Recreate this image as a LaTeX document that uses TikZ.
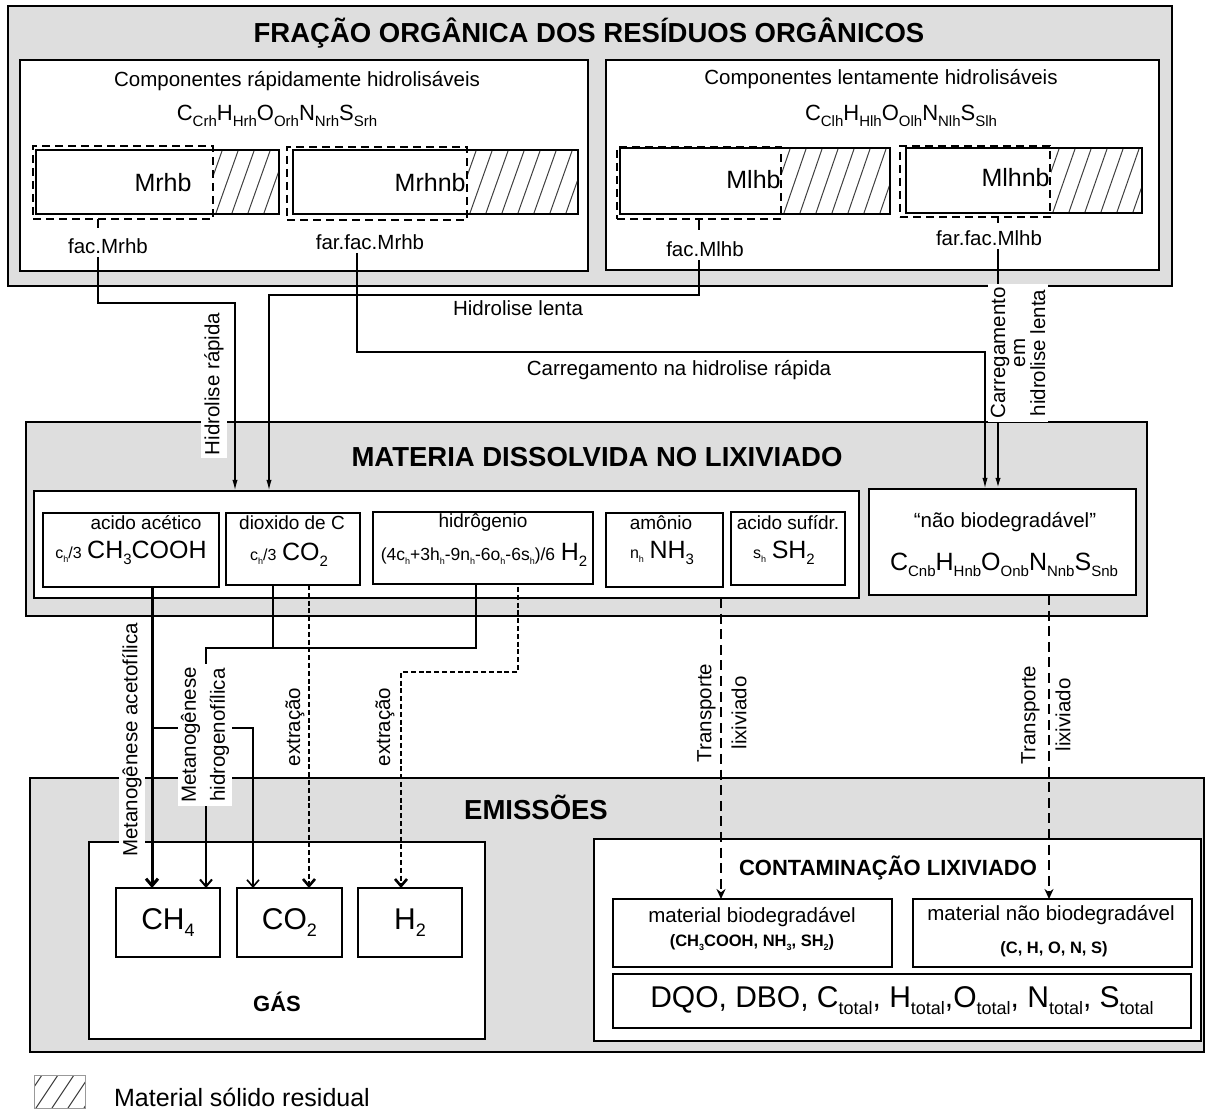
\documentclass[tikz,border=0pt]{standalone}
\usepackage{fontspec}
\setmainfont{Liberation Sans}
\usepackage{tikz}
\usetikzlibrary{positioning, arrows.meta}

\definecolor{fundocinza}{RGB}{222,222,222}
\newcommand{\tam}[1]{\fontsize{#1}{#1}\selectfont}
\newcommand{\sbs}[2][7.5]{\raisebox{-0.45ex}{\tam{#1}#2}}
\newcommand{\hachura}[4]{%
  \begin{scope}
    \clip (#1,#2) rectangle (#3,#4);
    \foreach \i in {0,...,10}
      \draw[hach] (#1-30+16*\i,#4) -- (#1-8+16*\i,#2);
  \end{scope}}

\tikzset{
  cinza/.style={draw, line width=0.9pt, fill=fundocinza, anchor=north west, inner sep=0pt, outer sep=0pt},
  branca/.style={draw, line width=0.8pt, fill=white, anchor=north west, inner sep=0pt, outer sep=0pt},
  tracej/.style={draw, line width=1.4pt, dash pattern=on 4pt off 2.5pt, anchor=north west, inner sep=0pt, outer sep=0pt},
  hach/.style={line width=0.5pt, black!75},
  rotulo/.style={font=\tam{10.25}, inner sep=1.5pt},
  vert/.style={rotulo, rotate=90, align=center, fill=white},
  titulo/.style={font=\bfseries\tam{13.75}},
  liga/.style={line width=0.8pt},
  setasup/.style={liga, -{Latex[length=5.5pt,width=2.6pt]}},
  setagas/.style={-{Straight Barb[length=3.5pt,width=6pt]}},
  extr/.style={line width=1.3pt, dash pattern=on 2.5pt off 1.4pt, setagas},
  transp/.style={line width=1pt, dash pattern=on 5pt off 2.8pt, -{Stealth[length=5pt,width=4.5pt]}},
}

\begin{document}
\begin{tikzpicture}[x=0.5pt, y=-0.5pt]
\fill[white] (0,0) rectangle (1217,1112);
\useasboundingbox (0,0) rectangle (1217,1112);

% Fracao organica
\node[cinza, minimum width=582pt, minimum height=140pt] (fracao) at (8,6) {};
\node[titulo] (titfrac) at (589,33) {FRAÇÃO ORGÂNICA DOS RESÍDUOS ORGÂNICOS};
\node[branca, minimum width=284pt, minimum height=105.5pt] (rapido) at (20,60) {};
\node[branca, minimum width=276.5pt, minimum height=105pt] (lento) at (606,60) {};
\node[rotulo] (comprap) at (297,81) {Componentes rápidamente hidrolisáveis};
\node[font=\tam{11}] (formrap) at (277,116) {C\sbs{Crh}H\sbs{Hrh}O\sbs{Orh}N\sbs{Nrh}S\sbs{Srh}};
\node[rotulo] (complen) at (881,79) {Componentes lentamente hidrolisáveis};
\node[font=\tam{11}] (formlen) at (901,116) {C\sbs{Clh}H\sbs{Hlh}O\sbs{Olh}N\sbs{Nlh}S\sbs{Slh}};

% Barras
\node[branca, minimum width=121.5pt, minimum height=32pt] (mrhb) at (36,150) {};
\hachura{214}{151}{278}{213}
\node[tracej, minimum width=90pt, minimum height=36.5pt] (mrhbd) at (33,146) {};
\node[font=\tam{12.5}] (lmrhb) at (163,183) {Mrhb};

\node[branca, minimum width=142.5pt, minimum height=32pt] (mrhnb) at (293,150) {};
\hachura{468}{151}{577}{213}
\node[tracej, minimum width=90pt, minimum height=36.5pt] (mrhnbd) at (287,147) {};
\node[font=\tam{12.5}, anchor=east, inner sep=0pt] (lmrhnb) at (466,183) {Mrhnb};

\node[branca, minimum width=135pt, minimum height=33pt] (mlhb) at (620,148) {};
\hachura{782}{149}{889}{213}
\node[tracej, minimum width=82pt, minimum height=36pt] (mlhbd) at (617,147) {};
\node[font=\tam{12.5}, anchor=east, inner sep=0pt] (lmlhb) at (781,180) {Mlhb};

\node[branca, minimum width=118pt, minimum height=32.5pt] (mlhnb) at (906,148) {};
\hachura{1051}{149}{1141}{212}
\node[tracej, minimum width=75pt, minimum height=35.5pt] (mlhnbd) at (900,146) {};
\node[font=\tam{12.5}, anchor=east, inner sep=0pt] (lmlhnb) at (1050,178) {Mlhnb};

\node[rotulo] (facmrhb) at (108,246) {fac.Mrhb};
\node[rotulo] (farmrhb) at (370,242) {far.fac.Mrhb};
\node[rotulo] (facmlhb) at (705,249) {fac.Mlhb};
\node[rotulo] (farmlhb) at (989,238) {far.fac.Mlhb};

% Materia dissolvida
\node[cinza, minimum width=560.5pt, minimum height=97pt] (dissolv) at (26,422) {};
\node[titulo] (titdis) at (597,457) {MATERIA DISSOLVIDA NO LIXIVIADO};
\node[branca, minimum width=412.5pt, minimum height=53.5pt] (lixleft) at (34,491) {};
\node[branca, minimum width=133.5pt, minimum height=53pt] (naobio) at (869,489) {};

\node[branca, line width=0.75pt, minimum width=88pt, minimum height=37pt] (acido) at (43,513) {};
\node[branca, line width=0.75pt, minimum width=67pt, minimum height=36pt] (dioxido) at (226,513) {};
\node[branca, line width=0.75pt, minimum width=110pt, minimum height=36pt] (hidro) at (373,512) {};
\node[branca, line width=0.75pt, minimum width=58.5pt, minimum height=37pt] (amonio) at (606,513) {};
\node[branca, line width=0.75pt, minimum width=57pt, minimum height=36.5pt] (sulf) at (731,512) {};

\node[font=\tam{9.5}] (tacido) at (146,523) {acido acético};
\node (facido) at (131,553) {{\tam{8}c\sbs[4.5]{h}/3} {\tam{12.5}CH\sbs{3}COOH}};
\node[font=\tam{9.5}] (tdiox) at (292,523) {dioxido de C};
\node (fdiox) at (289,555) {{\tam{8}c\sbs[4.5]{h}/3} {\tam{12.5}CO\sbs{2}}};
\node[font=\tam{9.5}] (thidro) at (483,523) {hidrôgenio};
\node (fhidro) at (484,555) {{\tam{8.75}(4c\sbs[4.5]{h}+3h\sbs[4.5]{h}-9n\sbs[4.5]{h}-6o\sbs[4.5]{h}-6s\sbs[4.5]{h})/6} {\tam{12.5}H\sbs{2}}};
\node[font=\tam{9.5}] (tamonio) at (661,523) {amônio};
\node (famonio) at (662,553) {{\tam{8}n\sbs[4.5]{h}} {\tam{12.5}NH\sbs{3}}};
\node[font=\tam{9.5}] (tsulf) at (788,523) {acido sufídr.};
\node (fsulf) at (784,553) {{\tam{8}s\sbs[4.5]{h}} {\tam{12.5}SH\sbs{2}}};

\node[rotulo] (tnaobio) at (1005,522) {“não biodegradável”};
\node[font=\tam{12.5}] (fnaobio) at (1004,565) {C\sbs{Cnb}H\sbs{Hnb}O\sbs{Onb}N\sbs{Nnb}S\sbs{Snb}};

% Emissoes
\node[cinza, minimum width=587pt, minimum height=137pt] (emissoes) at (30,778) {};
\node[titulo] (titemi) at (536,807) {EMISSÕES};
\node[branca, minimum width=198pt, minimum height=98.5pt] (gas) at (89,842) {};
\node[branca, line width=0.75pt, minimum width=52pt, minimum height=34.5pt, font=\tam{15}] (ch4) at (116,888) {CH\sbs[9]{4}};
\node[branca, line width=0.75pt, minimum width=52.5pt, minimum height=34.5pt, font=\tam{15}] (co2) at (237,888) {CO\sbs[9]{2}};
\node[branca, line width=0.75pt, minimum width=52pt, minimum height=34.5pt, font=\tam{15}] (h2) at (358,888) {H\sbs[9]{2}};
\node[font=\bfseries\tam{11}] (tgas) at (277,1002) {GÁS};

\node[branca, minimum width=303.5pt, minimum height=101pt] (contam) at (594,839) {};
\node[font=\bfseries\tam{11}] (tcontam) at (888,868) {CONTAMINAÇÃO LIXIVIADO};
\node[branca, line width=0.75pt, minimum width=139.5pt, minimum height=34pt] (bio) at (613,899) {};
\node[branca, line width=0.75pt, minimum width=139.5pt, minimum height=34pt] (naobiod) at (913,899) {};
\node[branca, line width=0.75pt, minimum width=289pt, minimum height=27pt, font=\tam{15}] (dqo) at (613,974)
  {DQO, DBO, C\sbs[9]{total}, H\sbs[9]{total},O\sbs[9]{total}, N\sbs[9]{total}, S\sbs[9]{total}};
\node[rotulo] (tbio) at (752,917) {material biodegradável};
\node[font=\bfseries\tam{8.25}] (fbio) at (752,943) {(CH\sbs[4.5]{3}COOH, NH\sbs[4.5]{3}, SH\sbs[4.5]{2})};
\node[rotulo] (tnaobiod) at (1051,915) {material não biodegradável};
\node[font=\bfseries\tam{8.25}] (fnaobiod) at (1054,949) {(C, H, O, N, S)};

% Legenda
\hachura{34}{1075}{85}{1108}
\draw[black!40, line width=0.5pt] (34,1075) rectangle (85,1108);
\node[font=\tam{12.5}] (legenda) at (242,1097) {Material sólido residual};

% Coordenadas das ligacoes
\coordinate (xa) at (98,0);
\coordinate (xb) at (699,0);
\coordinate (xc) at (357,0);
\coordinate (xd) at (998,0);
\coordinate (xe) at (152,0);
\coordinate (xf) at (273,0);
\coordinate (xg) at (476,0);
\coordinate (xh) at (309,0);
\coordinate (xi) at (518,0);
\coordinate (xj) at (721,0);
\coordinate (xk) at (1049,0);
\coordinate (k1) at (235,303);
\coordinate (k2) at (269,295);
\coordinate (k3) at (985,352);
\coordinate (k4) at (253,728);
\coordinate (k5) at (206,648);
\coordinate (k6) at (401,672);

% Hidrolise
\draw[liga] (mrhbd.south -| xa) -- ++(0,9);
\draw[liga] (mlhbd.south -| xb) -- ++(0,11);
\draw[liga] (mlhnbd.south -| xd) -- ++(0,6);
\draw[setasup] (facmrhb.south -| xa) |- (k1) -- (k1 |- lixleft.north);
\draw[setasup] (facmlhb.south -| xb) |- (k2) -- (k2 |- lixleft.north);
\draw[setasup] (farmrhb.south -| xc) |- (k3) -- (k3 |- naobio.north);
\draw[setasup, line width=1pt] (farmlhb.south -| xd) -- (naobio.north -| xd);

% Metanogenese
\draw[liga, line width=1.5pt, setagas] (acido.south -| xe) -- (ch4.north -| xe);
\draw[liga, setagas] (k4 -| xe) -- (k4) -- (k4 |- co2.north);
\draw[liga] (dioxido.south -| xf) -- (k5 -| xf);
\draw[liga, line width=1pt, setagas] (hidro.south -| xg) |- (k5) -- (k5 |- ch4.north);

% Extracao e transporte
\draw[extr] (dioxido.south -| xh) -- (co2.north -| xh);
\draw[extr] ([yshift=-1.5pt]hidro.south -| xi) |- (k6) -- (k6 |- h2.north);
\draw[transp] (lixleft.south -| xj) -- (bio.north -| xj);
\draw[transp] (naobio.south -| xk) -- (naobiod.north -| xk);

% Rotulos das ligacoes
\node[vert] (lhrap) at (214,384) {Hidrolise rápida};
\node[rotulo] (lhlen) at (518,308) {Hidrolise lenta};
\node[rotulo] (lcarrap) at (679,370) {Carregamento na hidrolise rápida};
\node[vert] (lcarlen) at (1018,353) {Carregamento\\[-0.25pt]em\\[-0.25pt]hidrolise lenta};
\node[vert] (lacet) at (132,740) {Metanogênese acetofílica};
\node[vert] (lhidrog) at (205,735) {Metanogênese\\[4.25pt]hidrogenofílica};
\node[vert, fill=none] (lext1) at (295,727) {extração};
\node[vert, fill=none] (lext2) at (385,727) {extração};
\node[vert, fill=none] (ltransp1) at (722,713) {Transporte\\[7.25pt]lixiviado};
\node[vert, fill=none] (ltransp2) at (1046,715) {Transporte\\[7.25pt]lixiviado};

\end{tikzpicture}
\end{document}
